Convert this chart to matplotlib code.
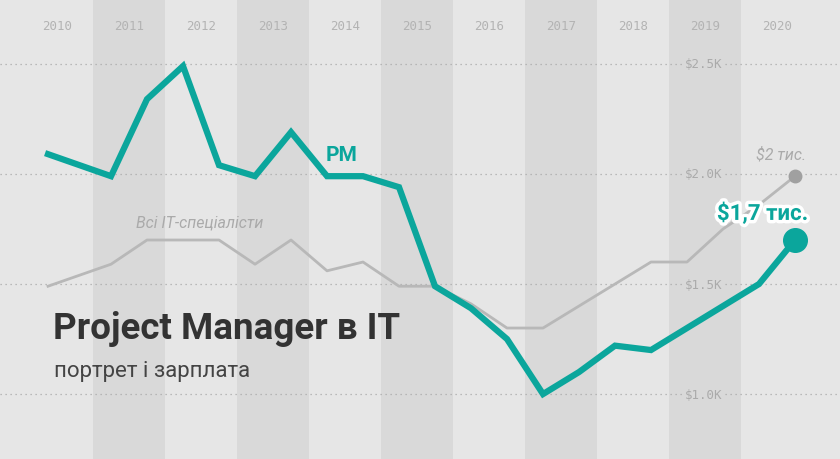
import matplotlib.pyplot as plt
import matplotlib.patheffects as pe

years = list(range(2010, 2021))
# half-year time points
t_pm = [2009.875, 2010.75, 2011.25, 2011.75, 2012.25, 2012.75, 2013.25, 2013.75, 2014.25, 2014.75,
        2015.25, 2015.75, 2016.25, 2016.75, 2017.25, 2017.75, 2018.25, 2018.75, 2019.25, 2019.75, 2020.25]
pm = [2.09, 1.99, 2.34, 2.49, 2.04, 1.99, 2.19, 1.99, 1.99, 1.94,
      1.49, 1.39, 1.25, 1.00, 1.10, 1.22, 1.20, 1.30, 1.40, 1.50, 1.70]
it_all = [1.49, 1.59, 1.70, 1.70, 1.70, 1.59, 1.70, 1.56, 1.60, 1.49,
          1.49, 1.41, 1.30, 1.30, 1.40, 1.50, 1.60, 1.60, 1.75, 1.86, 1.99]
yticks = [1.0, 1.5, 2.0, 2.5]
ylabels = ['$1.0K', '$1.5K', '$2.0K', '$2.5K']

teal = '#0ba69c'
grey = '#b8b8b8'

fig = plt.figure(figsize=(8.4, 4.6), dpi=100)
ax = fig.add_axes([0, 0, 1, 1])
ax.set_facecolor('#e6e6e6')
ax.set_xlim(2009.208, 2020.875)
ax.set_ylim(0.705, 2.795)
ax.axis('off')
ax.add_patch(plt.Rectangle((2009, 0), 13, 3, color='#e6e6e6', zorder=0))

for y in years:
    if y % 2 == 1:
        ax.axvspan(y - 0.5, y + 0.5, color='#d9d9d9', zorder=0.5, lw=0)
    ax.text(y, 2.675, str(y), ha='center', va='center', color='#b3b3b3',
            fontsize=9, family='DejaVu Sans Mono')

for v, lab in zip(yticks, ylabels):
    ax.axhline(v, color='#aaaaaa', ls=(0, (1, 3)), lw=0.9, zorder=1)
    ax.text(2019.24, v, lab, ha='right', va='center', color='#aaaaaa',
            fontsize=9, family='DejaVu Sans Mono', zorder=1.5,
            bbox=dict(facecolor='#d9d9d9', edgecolor='none', pad=1.5))

ax.plot(t_pm, it_all, color=grey, lw=2, zorder=2)
ax.plot(t_pm[-1], it_all[-1], 'o', color='#a0a0a0', ms=9, zorder=3)
ax.plot(t_pm, pm, color=teal, lw=4.5, solid_joinstyle='miter', zorder=4)
ax.plot(t_pm[-1], pm[-1], 'o', color=teal, ms=17, zorder=5)

ax.text(2013.95, 2.09, 'PM', color=teal, fontsize=15, fontweight='bold', family='Roboto',
        ha='center', va='center')
ax.text(2011.1, 1.78, 'Всі IT-спеціалісти', color='#aaaaaa', fontsize=11.5, style='italic',
        family='Roboto', va='center')
ax.text(2020.05, 2.09, '$2 тис.', color='#aaaaaa', fontsize=11.5, style='italic',
        family='Roboto', ha='center', va='center')
ax.text(2019.8, 1.82, '$1,7 тис.', color=teal, fontsize=16, fontweight='bold', family='Roboto',
        ha='center', va='center',
        path_effects=[pe.withStroke(linewidth=5, foreground='white')], zorder=6)

ax.text(2009.2 + 54 / 72, 1.30, 'Project Manager в IT', color='#333333', fontsize=26.5,
        fontweight='bold', family='Roboto', va='center', zorder=6)
ax.text(2009.2 + 55 / 72, 1.105, 'портрет і зарплата', color='#444444', fontsize=16,
        family='Roboto', va='center', zorder=6)

fig.savefig('out.png', dpi=100)
